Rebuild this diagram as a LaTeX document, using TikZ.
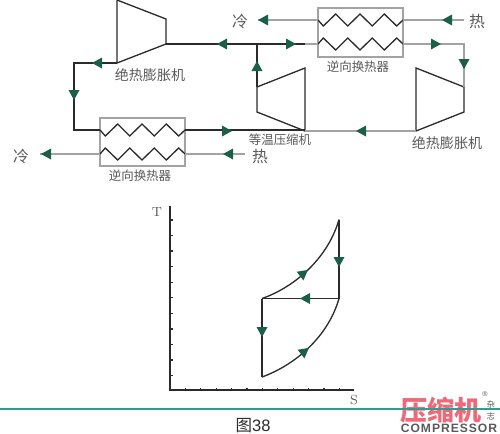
\documentclass[tikz,border=0pt]{standalone}
\usepackage{fontspec}
\newfontfamily\cjk{Noto Sans CJK SC}
\newfontfamily\logolatin[LetterSpace=8]{Liberation Sans}
\newfontfamily\capfont{Liberation Sans}
\usepackage{tikz}
\definecolor{flowgreen}{HTML}{1B5F4B}
\definecolor{pipegrey}{HTML}{A3A3A3}
\definecolor{pipedark}{HTML}{2B2B2B}
\definecolor{labelgrey}{HTML}{595959}
\definecolor{ruleteal}{HTML}{2E9E8E}
\definecolor{logored}{HTML}{EE6A78}
\tikzset{
    hot/.style={draw=pipedark,line width=0.75pt,line join=miter},
    chart/.style={draw=pipedark,line width=0.9pt},
    cool/.style={draw=pipegrey,line width=0.8pt},
    machinelabel/.style={text=labelgrey,font=\cjk\fontsize{8}{8}\selectfont,inner sep=0pt},
    boxlabel/.style={text=labelgrey,font=\cjk\fontsize{7.1}{7.1}\selectfont,inner sep=0pt},
    portlabel/.style={text=labelgrey,font=\cjk\fontsize{9}{9}\selectfont,inner sep=0pt},
    axislabel/.style={text=labelgrey,font=\fontsize{7.5}{7.5}\selectfont,inner sep=0pt}
}
\newcommand{\flowtip}[3]{\fill[flowgreen,shift={(#1,#2)},rotate=#3] (5,0) -- (-5,-5.5) -- (-5,5.5) -- cycle;}
\newcommand{\coil}[3]{\draw[hot] (#1,#2) -- ++(5.3,#3*6) -- ++(12.4,-#3*12) -- ++(12,#3*12) -- ++(12.3,-#3*12) -- ++(12.3,#3*12) -- ++(12,-#3*12) -- ++(12.4,#3*12) -- ++(6.3,-#3*6);}

\begin{document}
\begin{tikzpicture}[x=0.02cm,y=-0.02cm]
    \useasboundingbox (0,0) rectangle (500,433);

    % machines
    \draw[hot] (117,0) coordinate (expA) -- (166,19) -- (166,44) coordinate (expAout) -- (117,63) coordinate (expAlow) -- cycle;
    \draw[hot] (416,68) -- (464,87) coordinate (expBin) -- (464,112) -- (416,131) coordinate (expBout) -- cycle;
    \draw[hot] (257,87) coordinate (compOut) -- (305,68) -- (305,131) coordinate (compIn) -- (257,112) -- cycle;

    % heat exchangers
    \draw[cool] (318,8) rectangle (403,57);
    \draw[cool] (100,118) rectangle (185,166);
    \coordinate (topCoolR) at (403,20);
    \coordinate (topCoolL) at (318,20);
    \coordinate (topHotL) at (318,44);
    \coordinate (topHotR) at (403,44);
    \coordinate (lowHotL) at (100,130);
    \coordinate (lowHotR) at (185,130);
    \coordinate (lowCoolL) at (100,154);
    \coordinate (lowCoolR) at (185,154);
    \coil{318}{20}{1}
    \coil{318}{44}{-1}
    \coil{100}{130}{1}
    \coil{100}{154}{-1}

    % pipes
    \coordinate (tee) at (257,44);
    \coordinate (topHotGap) at (305,44);
    \draw[hot] (expAout) -- (topHotGap);
    \draw[cool] (topHotGap) -- (topHotL);
    \draw[hot] (compOut) -- (tee);
    \draw[hot] (expAlow) -- (74,63) coordinate (cornerL) -- (74,130) -- (lowHotL);
    \draw[hot] (lowHotR) -- (compIn |- lowHotR);
    \draw[cool] (compIn) -- (expBout);
    \draw[cool] (topHotR) -- (464,44) -- (expBin);
    \draw[cool] (464,20) coordinate (hotInTop) -- (topCoolR);
    \draw[cool] (topCoolL) -- (258,20) coordinate (coldOutTop);
    \draw[cool] (lowCoolL) -- (40,154) coordinate (coldOutLow);
    \draw[cool] (245,154) coordinate (hotInLow) -- (lowCoolR);

    % flow arrows
    \flowtip{222}{44}{180}
    \flowtip{97}{63}{180}
    \flowtip{74}{95}{-90}
    \flowtip{227}{131}{0}
    \flowtip{46}{154}{180}
    \flowtip{228}{154}{180}
    \flowtip{257}{66}{90}
    \flowtip{291}{44}{0}
    \flowtip{263}{20}{180}
    \flowtip{447}{20}{180}
    \flowtip{436}{44}{0}
    \flowtip{464}{64}{-90}
    \flowtip{361}{131}{180}

    % labels
    \node[machinelabel] (labA) at (150,75) {绝热膨胀机};
    \node[machinelabel] (labB) at (447,143) {绝热膨胀机};
    \node[boxlabel] (labC) at (280,140) {等温压缩机};
    \node[boxlabel] (labD) at (358,67) {逆向换热器};
    \node[boxlabel] (labE) at (140,176) {逆向换热器};
    \node[portlabel] (coldA) at (240,21) {冷};
    \node[portlabel] (hotA) at (477,22) {热};
    \node[portlabel] (coldB) at (21,156) {冷};
    \node[portlabel] (hotB) at (260,157) {热};

    % T-S chart
    \draw[chart] (170,206) coordinate (axisT) -- (170,390) coordinate (origin) -- (354,390) coordinate (axisS);
    \foreach \i in {0,...,10}
        \draw[hot] (170,220+15.55*\i) -- ++(2.5,0);
    \foreach \i in {1,...,11}
        \draw[hot] (170+15.4*\i,390) -- ++(0,-2);
    \coordinate (stateA) at (262,298.5);
    \coordinate (stateB) at (339,219.5);
    \coordinate (stateC) at (339,298.5);
    \coordinate (stateD) at (262,377);
    \draw[hot] (stateA) .. controls (295,287) and (328,258) .. (stateB);
    \draw[chart] (stateB) -- (stateC);
    \draw[chart] (stateC) -- (stateA);
    \draw[chart] (stateA) -- (stateD);
    \draw[hot] (stateD) .. controls (295,365) and (328,337) .. (stateC);
    \flowtip{304}{273}{38}
    \flowtip{339}{262}{-90}
    \flowtip{305}{298.5}{180}
    \flowtip{262}{332}{-90}
    \flowtip{305}{351}{38}
    \node[axislabel] (labT) at (157,212) {T};
    \node[axislabel] (labS) at (354,400) {S};

    % footer
    \node[inner sep=0pt,text=logored,font=\cjk\bfseries\fontsize{15.4}{15.4}\selectfont] (logo) at (441,410) {压缩机};
    \node[inner sep=0pt,text=labelgrey,font=\logolatin\bfseries\fontsize{6.9}{6.9}\selectfont] (logoEn) at (449,428) {COMPRESSOR};
    \node[inner sep=0pt,text=labelgrey,font=\cjk\fontsize{4.6}{5.4}\selectfont,align=center] (logoMag) at (491,410) {杂\\[1.5pt]志};
    \node[inner sep=0pt,text=labelgrey,font=\capfont\fontsize{4}{4}\selectfont] (logoReg) at (485,394) {®};
    \draw[ruleteal,line width=0.9pt] (0,409) coordinate (ruleL) -- (500,409) coordinate (ruleR);
    \node[inner sep=0pt,text=pipedark,font=\fontsize{9.4}{9.4}\selectfont] (caption) at (253,425.5) {{\cjk 图}{\capfont 38}};
\end{tikzpicture}
\end{document}
